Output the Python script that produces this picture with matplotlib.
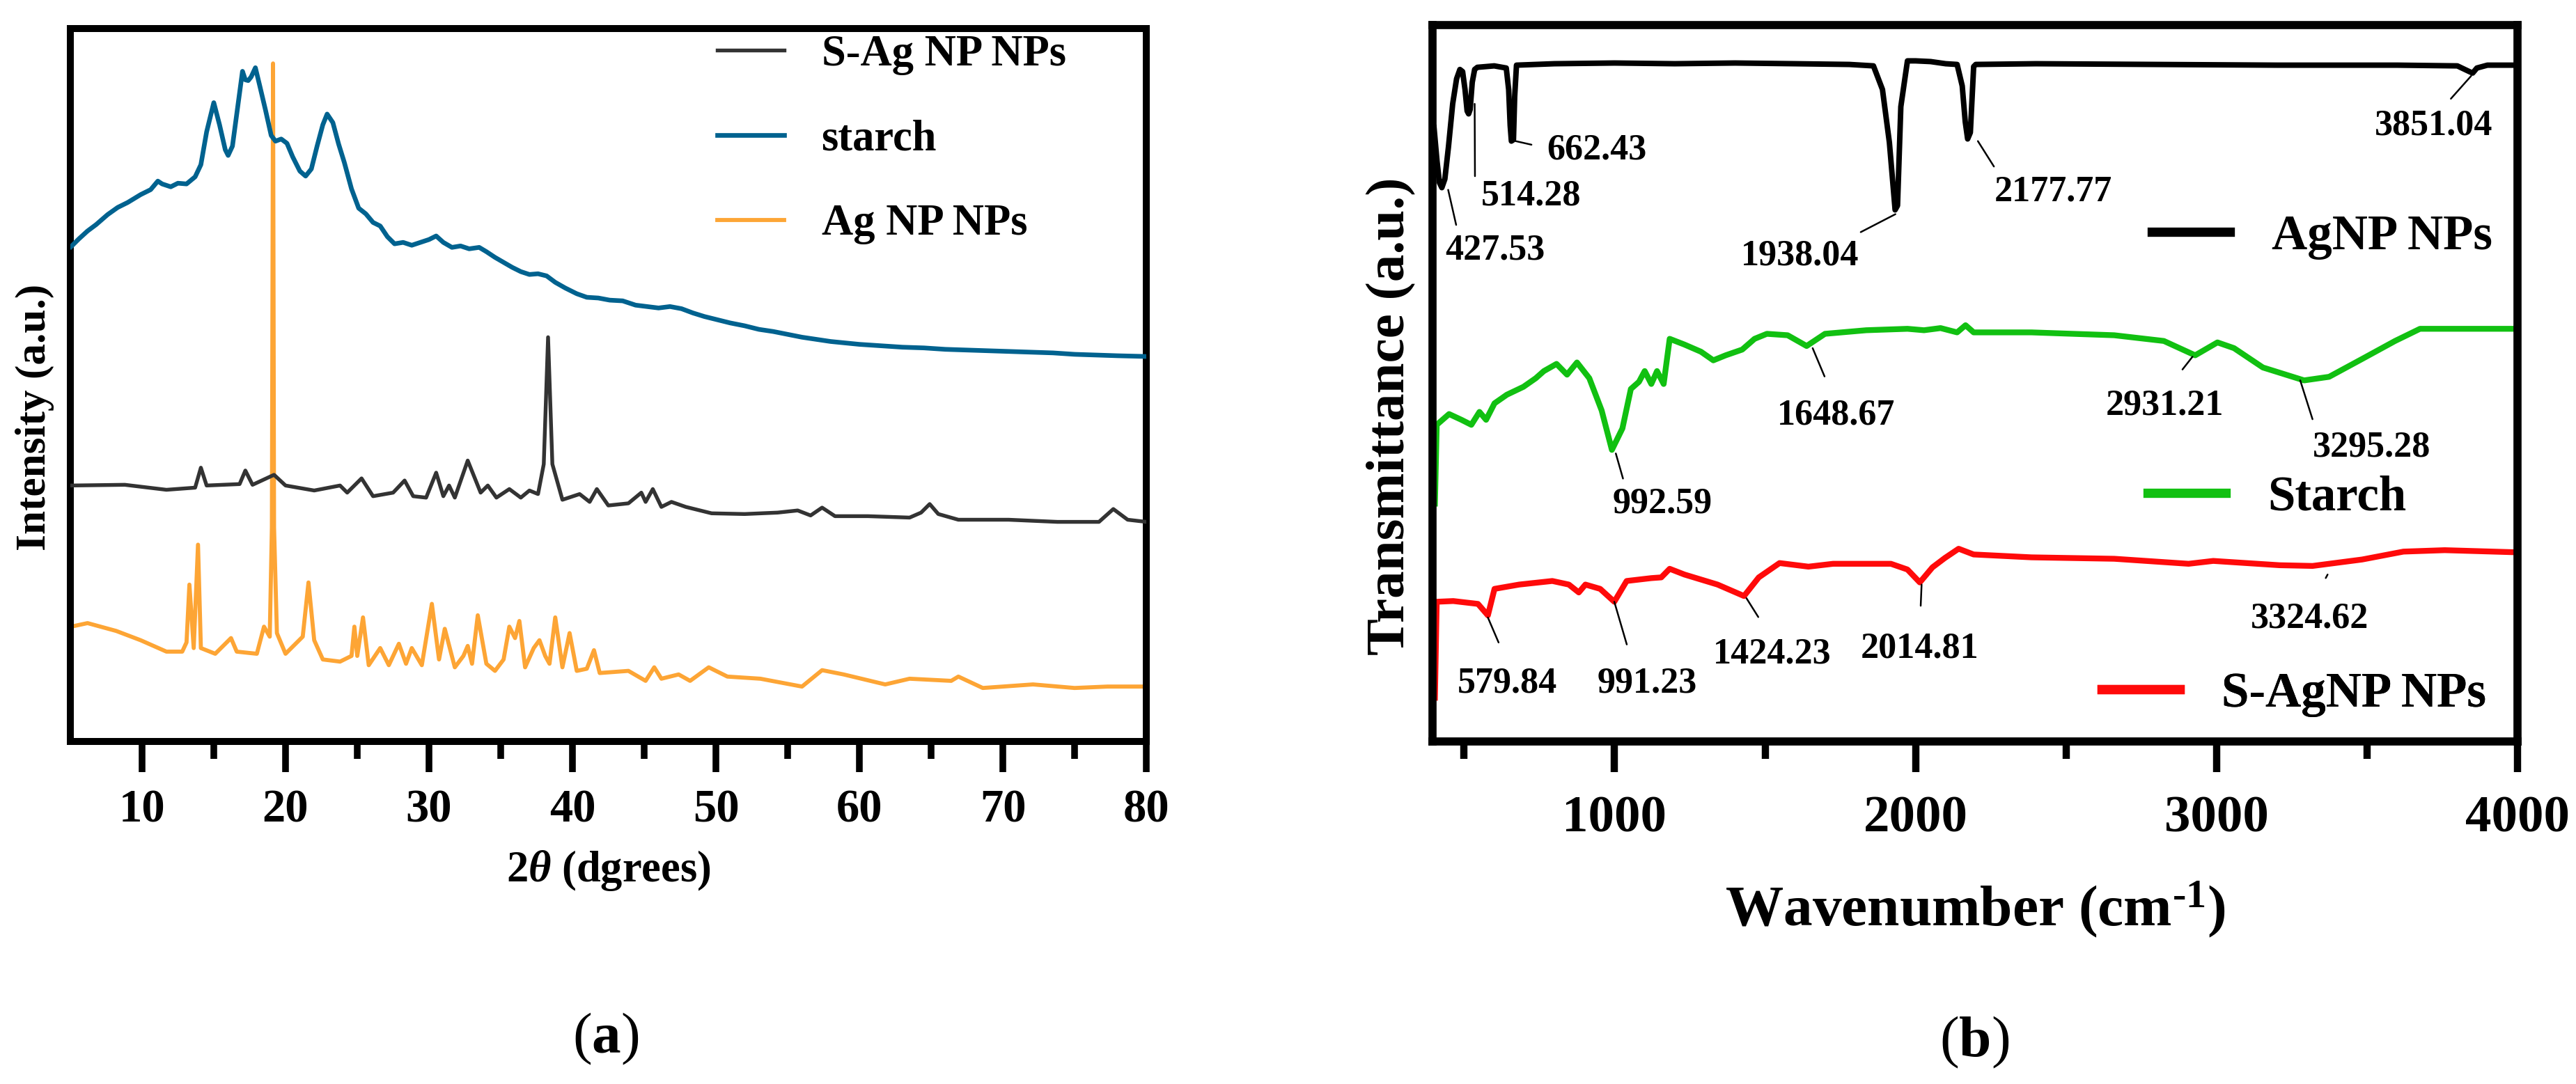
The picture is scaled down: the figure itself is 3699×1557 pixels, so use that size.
import matplotlib
matplotlib.use('Agg')
import matplotlib.pyplot as plt
from matplotlib.ticker import MultipleLocator, FixedLocator

plt.rcParams['font.family'] = ['Liberation Serif', 'DejaVu Serif']
plt.rcParams['font.weight'] = 'bold'
plt.rcParams['mathtext.fontset'] = 'custom'
plt.rcParams['mathtext.rm'] = 'Liberation Serif:bold'
plt.rcParams['mathtext.it'] = 'Liberation Serif:italic:bold'
plt.rcParams['mathtext.bf'] = 'Liberation Serif:bold'

# ---------------- (a) XRD (a.u., 0-100) ----------------
sag_x = [5.05, 8.8, 11.7, 13.7, 14.1, 14.5, 16.8, 17.2, 17.7, 19.2, 20.0, 22.0, 23.8, 24.3,
         25.3, 26.1, 27.5, 28.3, 28.9, 29.8, 30.5, 31.0, 31.4, 31.8, 32.7, 33.6, 34.1, 34.7,
         35.6, 36.4, 37.0, 37.6, 38.0, 38.3, 38.6, 39.3, 40.5, 41.2, 41.7, 42.5, 43.9, 44.8,
         45.1, 45.6, 46.2, 46.9, 47.9, 49.7, 52.0, 54.3, 55.7, 56.6, 57.4, 58.3, 60.6, 63.5,
         64.3, 64.9, 65.5, 66.9, 70.4, 73.8, 76.7, 77.7, 78.7, 80.0]
sag_y = [35.9, 36.0, 35.3, 35.6, 38.4, 35.9, 36.1, 38.0, 36.0, 37.4, 35.9, 35.2, 35.9, 34.9,
         36.9, 34.4, 34.9, 36.6, 34.4, 34.2, 37.7, 34.4, 35.9, 34.2, 39.4, 34.9, 35.9, 34.2,
         35.4, 34.2, 35.2, 34.7, 38.9, 56.7, 38.9, 33.9, 34.7, 33.6, 35.4, 33.1, 33.4, 34.9,
         33.6, 35.4, 32.9, 33.6, 32.9, 32.0, 31.9, 32.1, 32.4, 31.7, 32.8, 31.6, 31.6, 31.4,
         32.1, 33.3, 31.9, 31.1, 31.1, 30.8, 30.8, 32.6, 31.1, 30.8]

starch_x = [5.05, 5.6, 6.2, 6.8, 7.6, 8.3, 9.0, 9.9, 10.6, 11.1, 11.4, 12.0, 12.5, 13.1, 13.7,
            14.1, 14.5, 15.0, 15.4, 15.8, 16.0, 16.3, 16.6, 17.0, 17.2, 17.4, 17.6, 17.9, 18.2,
            18.6, 19.0, 19.3, 19.7, 20.1, 20.5, 21.0, 21.4, 21.8, 22.2, 22.6, 22.9, 23.3, 23.7,
            24.1, 24.6, 25.1, 25.6, 26.1, 26.6, 27.1, 27.6, 28.2, 28.8, 29.4, 30.0, 30.5, 31.0,
            31.6, 32.2, 32.8, 33.5, 34.0, 34.6, 35.2, 35.8, 36.4, 37.0, 37.6, 38.2, 38.8, 39.5,
            40.3, 41.0, 41.8, 42.6, 43.5, 44.4, 45.2, 46.0, 46.8, 47.6, 48.4, 49.2, 50.0, 51.0,
            52.0, 53.0, 54.0, 55.0, 56.0, 57.0, 58.0, 59.0, 60.0, 61.5, 63.0, 64.5, 66.0, 67.5,
            69.0, 70.5, 72.0, 73.5, 75.0, 76.5, 78.0, 80.0]
starch_y = [69.4, 70.5, 71.6, 72.5, 73.9, 74.9, 75.6, 76.7, 77.4, 78.6, 78.2, 77.8, 78.3, 78.2, 79.2,
            80.9, 85.5, 89.6, 86.5, 83.0, 82.2, 83.5, 88.0, 94.0, 92.8, 92.7, 93.2, 94.5, 92.0,
            88.6, 85.0, 84.2, 84.5, 83.9, 82.0, 80.0, 79.3, 80.3, 83.5, 86.5, 88.0, 86.8, 83.8,
            81.2, 77.5, 74.8, 74.0, 72.8, 72.3, 70.8, 69.8, 70.0, 69.6, 70.0, 70.4, 70.9, 70.0,
            69.3, 69.5, 69.1, 69.3, 68.7, 67.9, 67.2, 66.5, 65.9, 65.5, 65.6, 65.3, 64.4, 63.6,
            62.8, 62.3, 62.2, 61.9, 61.8, 61.2, 61.0, 60.8, 61.0, 60.7, 60.1, 59.6, 59.2, 58.7,
            58.3, 57.8, 57.5, 57.1, 56.7, 56.4, 56.1, 55.9, 55.7, 55.5, 55.3, 55.2, 55.0, 54.9,
            54.8, 54.7, 54.6, 54.5, 54.3, 54.2, 54.1, 54.0]

ag_x = [5.05, 6.2, 8.2, 9.9, 11.7, 12.8, 13.1, 13.3, 13.6, 13.9, 14.1, 15.1, 16.2, 16.6, 18.0,
        18.5, 18.9, 19.05, 19.13, 19.2, 19.4, 20.0, 21.2, 21.6, 22.0, 22.6, 23.8, 24.6, 24.8,
        25.0, 25.4, 25.8, 26.6, 27.2, 27.9, 28.4, 28.8, 29.5, 30.2, 30.7, 31.1, 31.8, 32.4,
        32.7, 33.0, 33.4, 34.0, 34.6, 35.2, 35.6, 36.0, 36.3, 36.7, 37.3, 37.7, 38.1, 38.4,
        38.8, 39.3, 39.8, 40.3, 41.0, 41.5, 41.9, 43.9, 45.1, 45.7, 46.2, 47.4, 48.2, 49.5,
        50.8, 53.1, 56.0, 57.4, 58.9, 61.8, 63.5, 66.4, 66.9, 68.6, 72.1, 75.0, 77.3, 80.0]
ag_y = [16.1, 16.6, 15.5, 14.2, 12.6, 12.6, 13.9, 22.0, 13.1, 27.6, 13.1, 12.3, 14.5, 12.6, 12.3,
        16.1, 14.7, 30.0, 95.1, 30.0, 15.2, 12.3, 14.7, 22.3, 14.2, 11.5, 11.2, 12.0, 16.1,
        12.0, 17.4, 10.7, 13.1, 10.7, 13.7, 10.9, 13.1, 10.7, 19.3, 11.5, 15.8, 10.4, 12.0,
        13.4, 10.9, 17.7, 10.9, 9.9, 11.5, 16.1, 14.5, 16.9, 10.4, 13.1, 14.2, 12.0, 10.9,
        17.4, 10.4, 15.2, 9.9, 10.2, 12.8, 9.6, 9.9, 8.5, 10.4, 8.8, 9.4, 8.5, 10.4,
        9.1, 8.8, 7.7, 10.0, 9.4, 8.0, 8.8, 8.5, 9.1, 7.5, 8.0, 7.5, 7.7, 7.7]

# ---------------- (b) FTIR (a.u., 0-100) ----------------
agnp_wn = [400, 410, 418, 426, 436, 448, 462, 475, 486, 495, 503, 510, 515, 520, 527, 535, 544,
           600, 640, 648, 653, 657, 664, 668, 674, 800, 1000, 1200, 1400, 1600, 1780, 1860,
           1890, 1913, 1932, 1940, 1951, 1973, 2000, 2050, 2100, 2138, 2155, 2165, 2173, 2182,
           2193, 2200, 2400, 2800, 3200, 3600, 3800, 3840, 3851, 3865, 3900, 4000]
agnp_t = [85.7, 81.0, 78.0, 77.3, 78.5, 83.0, 89.0, 92.5, 93.8, 93.5, 91.0, 88.0, 87.6, 88.2, 92.0,
          93.8, 94.1, 94.3, 94.0, 91.0, 86.0, 83.8, 84.0, 90.0, 94.4, 94.6, 94.7, 94.6, 94.7, 94.6,
          94.5, 94.3, 91.0, 83.6, 74.2, 74.8, 88.6, 95.0, 95.0, 94.9, 94.6, 94.5, 91.5, 86.5,
          84.1, 85.0, 94.2, 94.5, 94.6, 94.5, 94.4, 94.4, 94.3, 93.5, 93.3, 94.0, 94.4, 94.4]

starch_wn = [403, 409, 450, 491, 524, 551, 573, 601, 642, 697, 738, 765, 807, 842, 875, 916, 957,
             991, 1026, 1054, 1081, 1100, 1122, 1141, 1163, 1183, 1232, 1287, 1328, 1369, 1424,
             1465, 1506, 1575, 1638, 1699, 1836, 1973, 2028, 2083, 2138, 2166, 2193, 2385, 2660,
             2825, 2929, 3003, 3058, 3154, 3291, 3374, 3484, 3593, 3676, 4000]
starch_t = [33.2, 44.2, 45.7, 44.9, 44.2, 46.0, 44.9, 47.2, 48.4, 49.5, 50.7, 51.7, 52.7, 51.2, 52.9,
            50.7, 46.2, 40.7, 43.7, 49.2, 50.2, 51.7, 49.9, 51.7, 49.9, 56.2, 55.4, 54.4, 53.2,
            53.9, 54.7, 56.2, 56.9, 56.7, 55.2, 56.9, 57.4, 57.6, 57.4, 57.7, 57.1, 58.1, 57.1,
            57.1, 56.7, 55.9, 53.9, 55.7, 54.9, 52.2, 50.4, 50.9, 53.4, 55.9, 57.6, 57.6]

sagnp_wn = [403, 409, 464, 546, 579, 601, 683, 793, 848, 881, 903, 952, 999, 1040, 1122, 1155,
            1183, 1232, 1342, 1430, 1479, 1548, 1644, 1726, 1918, 1973, 2014, 2056, 2097, 2143,
            2193, 2385, 2660, 2907, 2989, 3209, 3319, 3484, 3621, 3758, 4000]
sagnp_t = [6.1, 19.5, 19.6, 19.2, 17.6, 21.3, 21.9, 22.4, 21.9, 20.8, 21.9, 21.3, 19.5, 22.4, 22.8,
           22.9, 24.1, 23.3, 21.9, 20.3, 22.9, 24.9, 24.4, 24.8, 24.8, 24.0, 22.2, 24.3, 25.6,
           26.9, 26.1, 25.7, 25.5, 24.8, 25.2, 24.6, 24.5, 25.4, 26.5, 26.7, 26.4]

# peak labels: text, point on curve, text top-left, start of leader on text box, gap
peak_labels = ['427.53', '514.28', '662.43', '1938.04', '2177.77', '3851.04',
               '992.59', '1648.67', '2931.21', '3295.28',
               '579.84', '991.23', '1424.23', '2014.81', '3324.62']
peak_xy = [(447, 77.0), (535, 89.0), (671, 83.8), (1933, 73.6), (2207, 83.8), (3846, 92.9),
           (1004, 40.2), (1658, 54.9), (2920, 53.7), (3278, 50.4),
           (579, 17.3), (999, 19.5), (1438, 20.0), (2020, 21.9), (3369, 23.3)]
label_xy = [(437, 70.9), (556, 78.5), (776, 84.9), (1419, 70.1), (2262, 79.1), (3525, 88.3),
            (993, 35.5), (1540, 47.9), (2632, 49.2), (3319, 43.4),
            (477, 10.4), (943, 10.4), (1328, 14.5), (1817, 15.3), (3113, 19.5)]
leader_rel = [(0.13, 1), (-0.06, 1), (0, 0.55), (0.9, 1), (0.04, 1), (0.57, 1),
              (0.13, 1), (0.48, 1), (0.52, 1), (0.03, 1),
              (0.52, 1), (0.36, 1), (0.49, 1), (0.5, 1), (0.53, 1)]
leader_gap = [1, 1, 3.5, 1, 1, 2, 1, 6, 6, 2, 7, 6, 6, 7, 7]

fig = plt.figure(figsize=(3699 / 300, 1557 / 300), dpi=300)

# ---------------- panel (a) ----------------
ax1 = fig.add_axes([0.0273, 0.316, 0.4177, 0.6577])
l_ag, = ax1.plot(ag_x, ag_y, color='#fda535', lw=1.4, label='Ag NP NPs', zorder=2)
l_st, = ax1.plot(starch_x, starch_y, color='#00628f', lw=1.6, label='starch', zorder=3)
l_sag, = ax1.plot(sag_x, sag_y, color='#333333', lw=1.3, label='S-Ag NP NPs', zorder=4)
ax1.set_xlim(5, 80)
ax1.set_ylim(0, 100)
ax1.set_yticks([])
ax1.xaxis.set_major_locator(MultipleLocator(10))
ax1.xaxis.set_minor_locator(FixedLocator([15, 25, 35, 45, 55, 65, 75]))
ax1.tick_params(axis='x', which='major', direction='out', length=10.5, width=2.3,
                labelsize=16, pad=6)
ax1.tick_params(axis='x', which='minor', direction='out', length=6, width=2.3)
for sp in ax1.spines.values():
    sp.set_linewidth(2.4)
ax1.set_xlabel(r'2$\theta$ (dgrees)', fontsize=15, fontweight='bold', va='center')
ax1.xaxis.set_label_coords(0.5, -0.181)
ax1.set_ylabel('Intensity (a.u.)', fontsize=14.7, fontweight='bold', va='center')
ax1.yaxis.set_label_coords(-0.033, 0.455)
ax1.legend(handles=[l_sag, l_st, l_ag], loc='center left', bbox_to_anchor=(0.601, 0.844),
           frameon=False, fontsize=15, handlelength=1.55, handletextpad=0.85,
           labelspacing=1.02, borderpad=0, borderaxespad=0)

# ---------------- panel (b) ----------------
ax2 = fig.add_axes([0.5561, 0.316, 0.4212, 0.6609])
l_b, = ax2.plot(agnp_wn, agnp_t, color='black', lw=1.9, label='AgNP NPs')
l_g, = ax2.plot(starch_wn, starch_t, color='#11c011', lw=2.0, label='Starch')
l_r, = ax2.plot(sagnp_wn, sagnp_t, color='#ff0a0a', lw=2.0, label='S-AgNP NPs')
ax2.set_xlim(395, 4000)
ax2.set_ylim(0, 100)
ax2.set_yticks([])
ax2.xaxis.set_major_locator(MultipleLocator(1000))
ax2.xaxis.set_minor_locator(FixedLocator([500, 1500, 2500, 3500]))
ax2.tick_params(axis='x', which='major', direction='out', length=10.5, width=2.5,
                labelsize=18, pad=8)
ax2.tick_params(axis='x', which='minor', direction='out', length=6, width=2.5)
for sp in ax2.spines.values():
    sp.set_linewidth(2.8)
ax2.set_xlabel(r'Wavenumber (cm$^{\text{-1}}$)', fontsize=20, fontweight='bold', va='center')
ax2.xaxis.set_label_coords(0.5, -0.235)
ax2.set_ylabel('Transmittance (a.u.)', fontsize=19, fontweight='bold', va='center')
ax2.yaxis.set_label_coords(-0.038, 0.454)

for txt, xy, xyt, rel, gap in zip(peak_labels, peak_xy, label_xy, leader_rel, leader_gap):
    ax2.annotate(txt, xy=xy, xytext=xyt, ha='left', va='top', fontsize=12.5,
                 fontweight='bold',
                 arrowprops=dict(arrowstyle='-', color='black', lw=0.6,
                                 relpos=rel, shrinkA=gap, shrinkB=0))

for handle, anchor in zip([l_b, l_g, l_r], [(0.663, 0.704), (0.659, 0.340), (0.617, 0.066)]):
    leg = ax2.legend(handles=[handle], loc='center left', bbox_to_anchor=anchor,
                     frameon=False, fontsize=17, handlelength=1.58, handletextpad=0.85,
                     borderpad=0, borderaxespad=0)
    leg.legend_handles[0].set_linewidth(3.2)
    ax2.add_artist(leg)

# panel letters
fig.text(0.2352, 0.0417, r'($\mathbf{a}$)', fontsize=20, fontweight='normal',
         ha='center', va='center')
fig.text(0.7664, 0.0385, r'($\mathbf{b}$)', fontsize=20, fontweight='normal',
         ha='center', va='center')

fig.savefig('out.png', dpi=300)
